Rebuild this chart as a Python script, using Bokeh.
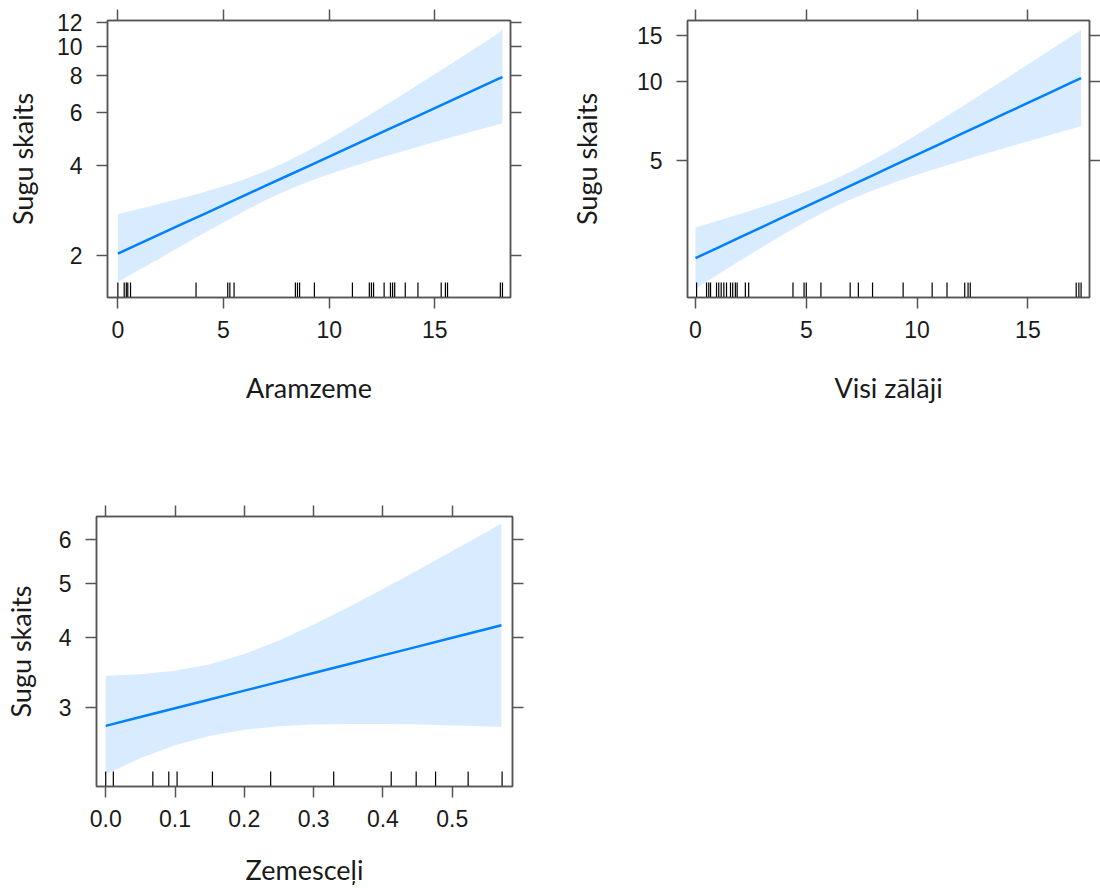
import math
from bokeh.plotting import figure
from bokeh.models import Range1d, FixedTicker, LinearAxis, LogAxis, PrintfTickFormatter
from bokeh.layouts import column, row
from bokeh.embed import file_html
from bokeh.resources import INLINE

# ---------------- data ----------------
# Panel 1: Aramzeme
aram_grid = [0, 1, 2, 3, 4, 5, 6, 7, 8, 9, 10, 11, 12, 13, 14, 15, 16, 17, 18, 18.2]
aram_fit = [2.030, 2.187, 2.357, 2.540, 2.736, 2.948, 3.177, 3.423, 3.688, 3.974,
            4.282, 4.614, 4.971, 5.357, 5.772, 6.219, 6.701, 7.220, 7.780, 7.897]
aram_lo = [1.630, 1.790, 1.960, 2.150, 2.360, 2.580, 2.818, 3.063, 3.300, 3.525,
           3.739, 3.948, 4.153, 4.361, 4.572, 4.789, 5.012, 5.243, 5.484, 5.532]
aram_hi = [2.750, 2.860, 2.980, 3.110, 3.250, 3.410, 3.600, 3.830, 4.121, 4.480,
           4.903, 5.393, 5.951, 6.581, 7.287, 8.077, 8.959, 9.942, 11.04, 11.40]
aram_rug = [0.0, 0.3, 0.4, 0.47, 0.6, 3.7, 5.2, 5.3, 5.5, 8.4, 8.5, 8.6, 9.3, 11.1,
            11.9, 12.0, 12.1, 12.6, 12.9, 13.0, 13.1, 13.6, 14.2, 15.3, 15.5, 15.6, 18.1, 18.2]
aram_xticks = [0, 5, 10, 15]
aram_yticks = [2, 4, 6, 8, 10, 12]

# Panel 2: Visi zālāji
visi_grid = [0, 1, 2, 3, 4, 5, 6, 7, 8, 9, 10, 11, 12, 13, 14, 15, 16, 17, 17.4]
visi_fit = [2.120, 2.322, 2.543, 2.785, 3.050, 3.340, 3.658, 4.006, 4.388, 4.805,
            5.262, 5.763, 6.312, 6.913, 7.571, 8.291, 9.081, 9.945, 10.311]
visi_lo = [1.618, 1.832, 2.070, 2.333, 2.620, 2.926, 3.240, 3.548, 3.844, 4.128,
           4.408, 4.690, 4.979, 5.277, 5.587, 5.911, 6.251, 6.608, 6.755]
visi_hi = [2.777, 2.944, 3.125, 3.325, 3.550, 3.813, 4.130, 4.523, 5.009, 5.593,
           6.282, 7.082, 8.002, 9.056, 10.259, 11.629, 13.192, 14.967, 15.740]
visi_rug = [0.05, 0.5, 0.6, 0.68, 0.95, 1.05, 1.16, 1.28, 1.4, 1.58, 1.68, 1.8, 1.88, 2.25, 2.4,
            4.4, 4.9, 5.0, 5.66, 6.98, 7.35, 7.99, 9.37, 10.68, 11.35, 12.15, 12.3, 12.4,
            17.18, 17.3, 17.4]
visi_xticks = [0, 5, 10, 15]
visi_yticks = [5, 10, 15]

# Panel 3: Zemesceļi
zem_grid = [0, 0.05, 0.10, 0.15, 0.20, 0.25, 0.30, 0.35, 0.40, 0.45, 0.50, 0.55, 0.571]
zem_fit = [2.780, 2.883, 2.990, 3.100, 3.215, 3.334, 3.458, 3.586, 3.719, 3.856,
           3.999, 4.147, 4.211]
zem_lo = [2.276, 2.431, 2.565, 2.665, 2.735, 2.775, 2.795, 2.800, 2.800, 2.795,
          2.785, 2.772, 2.767]
zem_hi = [3.420, 3.440, 3.490, 3.585, 3.740, 3.955, 4.224, 4.538, 4.894, 5.287,
          5.721, 6.196, 6.410]
zem_rug = [0.0, 0.011, 0.068, 0.091, 0.103, 0.154, 0.238, 0.329, 0.412, 0.448,
           0.476, 0.523, 0.572]
zem_xticks = [0.0, 0.1, 0.2, 0.3, 0.4, 0.5]
zem_yticks = [3, 4, 5, 6]

Y_TITLE = "Sugu skaits"

# ---------------- style ----------------
LINE_COL = "#0080ff"
FRAME_COL = "#555555"
TEXT_COL = "#1a1a1a"
TICK_FONT = "Liberation Sans"
TICK_SIZE = "23px"
TITLE_FONT = "Lato"
TITLE_SIZE = "27px"


def style_axis(ax, show_labels=True):
    ax.axis_line_color = FRAME_COL
    ax.axis_line_width = 1.5
    ax.major_tick_line_color = FRAME_COL
    ax.major_tick_line_width = 1.5
    ax.major_tick_out = 11
    ax.major_tick_in = 0
    ax.minor_tick_line_color = None
    if show_labels:
        ax.major_label_text_font = TICK_FONT
        ax.major_label_text_font_size = TICK_SIZE
        ax.major_label_text_color = TEXT_COL
    else:
        ax.major_label_text_font_size = "0px"
        ax.major_label_standoff = 0


def panel(width, height, mb, xr, yr, grid, fit, lo, hi, rug, xticks, yticks,
          xlabel, xfmt, xstand, ystand):
    p = figure(width=width, height=height, x_range=Range1d(*xr), y_range=Range1d(*yr),
               y_axis_type="log", output_backend="svg", toolbar_location=None,
               min_border_left=mb[0], min_border_right=mb[1], min_border_top=mb[2],
               min_border_bottom=mb[3])
    p.background_fill_color = "white"
    p.border_fill_color = "white"
    p.outline_line_color = FRAME_COL
    p.outline_line_width = 1.5
    p.xgrid.visible = False
    p.ygrid.visible = False

    p.varea(x=grid, y1=lo, y2=hi, fill_color=LINE_COL, fill_alpha=0.15)
    p.line(x=grid, y=fit, line_color=LINE_COL, line_width=2.5)
    p.scatter(x=rug, y=[yr[0]] * len(rug), marker="dash", angle=math.pi / 2, size=30,
              line_color="black", line_width=1.2)

    xa = p.xaxis[0]
    ya = p.yaxis[0]
    style_axis(xa)
    style_axis(ya)
    xa.ticker = FixedTicker(ticks=xticks)
    ya.ticker = FixedTicker(ticks=yticks)
    if xfmt:
        xa.formatter = PrintfTickFormatter(format=xfmt)
    xa.major_label_standoff = 12
    ya.major_label_standoff = 14
    xa.axis_label = xlabel
    ya.axis_label = Y_TITLE
    for ax, st in ((xa, xstand), (ya, ystand)):
        ax.axis_label_text_font = TITLE_FONT
        ax.axis_label_text_font_size = TITLE_SIZE
        ax.axis_label_text_font_style = "normal"
        ax.axis_label_text_color = TEXT_COL
        ax.axis_label_standoff = st

    top = LinearAxis(ticker=FixedTicker(ticks=xticks))
    style_axis(top, False)
    p.add_layout(top, "above")
    right = LogAxis(ticker=FixedTicker(ticks=yticks))
    style_axis(right, False)
    p.add_layout(right, "right")
    return p


p1 = panel(560, 440, (107, 50, 20, 143), (-0.49, 18.58), (1.448, 12.2),
           aram_grid, aram_fit, aram_lo, aram_hi, aram_rug, aram_xticks, aram_yticks,
           "Aramzeme", None, 30, 15)
p2 = panel(540, 440, (127, 10, 20, 143), (-0.36, 17.78), (1.50, 17.1),
           visi_grid, visi_fit, visi_lo, visi_hi, visi_rug, visi_xticks, visi_yticks,
           "Visi zālāji", None, 30, 31)
p3 = panel(560, 448, (93, 48, 76, 93), (-0.0133, 0.587), (2.164, 6.6),
           zem_grid, zem_fit, zem_lo, zem_hi, zem_rug, zem_xticks, zem_yticks,
           "Zemesceļi", "%.1f", 23, 19)

layout = column(row(p1, p2, spacing=0), row(p3, spacing=0), spacing=0)
open("out.html", "w").write(file_html(layout, INLINE))
